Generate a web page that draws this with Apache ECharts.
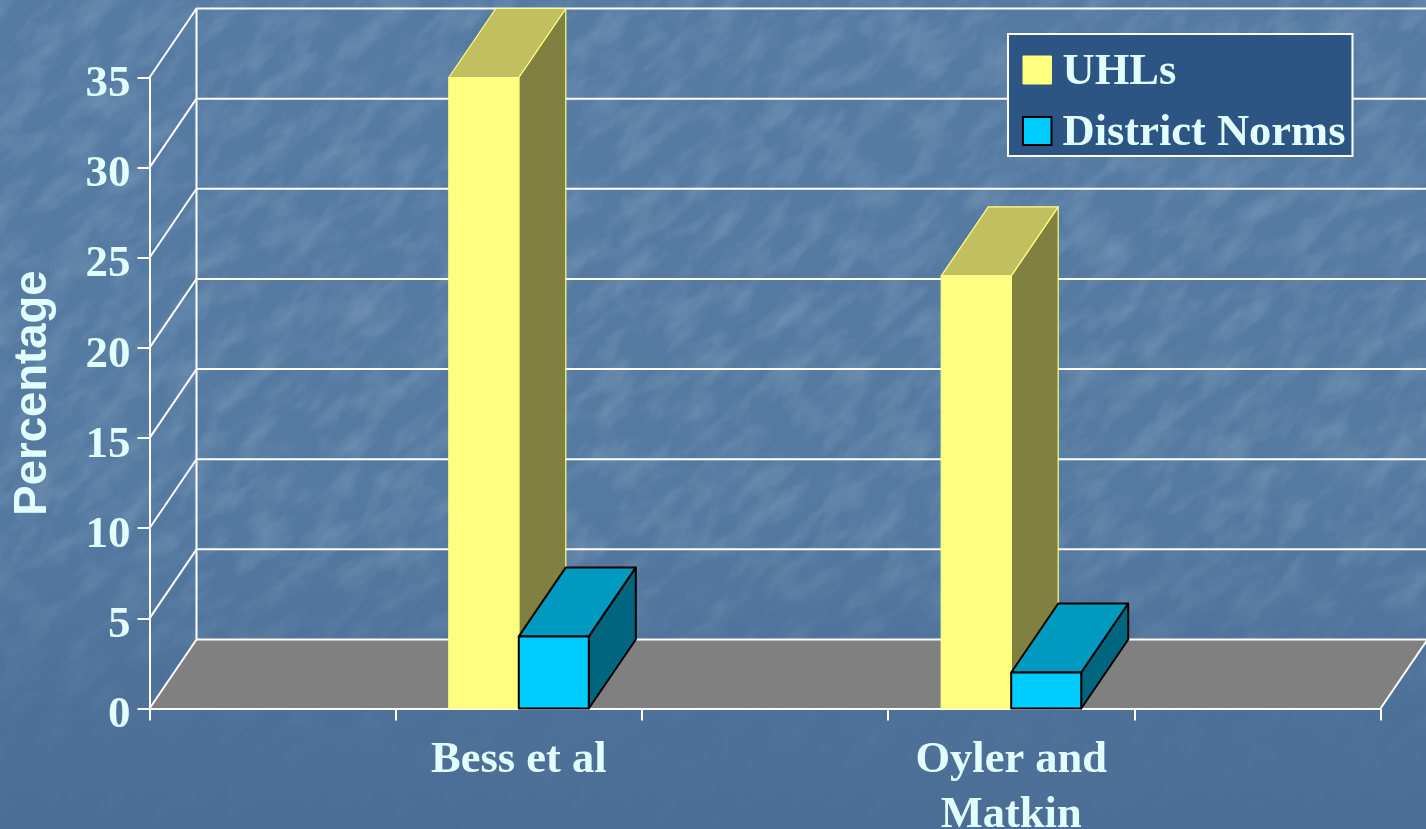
<!DOCTYPE html>
<html>
<head>
<meta charset="utf-8">
<style>
html,body{margin:0;padding:0;width:1426px;height:829px;overflow:hidden;background:#557aa3;}
#bg{position:absolute;left:0;top:0;width:1426px;height:829px;}
#chart{position:absolute;left:0;top:0;width:1426px;height:829px;}
</style>
<script src="https://cdn.jsdelivr.net/npm/echarts@6/dist/echarts.min.js"></script>
</head>
<body>
<svg id="bg" xmlns="http://www.w3.org/2000/svg" width="1426" height="829" viewBox="0 0 1426 829">
  <defs>
    <linearGradient id="base" x1="0" y1="0" x2="0" y2="1">
      <stop offset="0" stop-color="#567ba3"/>
      <stop offset="0.6" stop-color="#557aa1"/>
      <stop offset="0.82" stop-color="#4e7199"/>
      <stop offset="1" stop-color="#4b6d96"/>
    </linearGradient>
    <linearGradient id="fade" x1="0" y1="0" x2="0" y2="1">
      <stop offset="0" stop-color="#fff"/>
      <stop offset="0.66" stop-color="#fff"/>
      <stop offset="0.86" stop-color="#333"/>
      <stop offset="1" stop-color="#111"/>
    </linearGradient>
    <mask id="m"><rect width="1426" height="829" fill="url(#fade)"/></mask>
    <filter id="streaks" x="0" y="0" width="100%" height="100%" color-interpolation-filters="sRGB">
      <feTurbulence type="fractalNoise" baseFrequency="0.022 0.045" numOctaves="4" seed="11"/>
      <feColorMatrix type="matrix" values="0 0 0 0 0.70  0 0 0 0 0.78  0 0 0 0 0.88  0.5 0 0 0 -0.2"/>
    </filter>
  </defs>
  <rect width="1426" height="829" fill="url(#base)"/>
  <g mask="url(#m)">
    <g transform="rotate(-42 713 414)">
      <rect x="-400" y="-500" width="2300" height="1900" filter="url(#streaks)"/>
    </g>
  </g>
</svg>
<div id="chart"></div>
<script>
var categories = ['', 'Bess et al', '', 'Oyler and\nMatkin', ''];
var uhls = [null, 35, null, 24, null];
var districtNorms = [null, 4, null, 2, null];
var yTicks = [0, 5, 10, 15, 20, 25, 30, 35];
var seriesNames = ['UHLs', 'District Norms'];

var labelColor = '#e2ffff';
var serif = '"Liberation Serif", "Times New Roman", serif';
var depthX = 47, depthY = -69, barW = 70;

function wallItem(params, api) {
  var v = api.value(0);
  var cs = params.coordSys;
  var y = api.coord([0, v])[1];
  var x0 = cs.x, x1 = cs.x + cs.width;
  var line = {stroke: '#fff', lineWidth: 2};
  var children = [];
  if (v === 0) {
    children.push({type: 'polygon', shape: {points: [[x0, y], [x0 + depthX, y + depthY], [x1 + depthX, y + depthY], [x1, y]]},
      style: {fill: '#808080', stroke: null}});
    children.push({type: 'line', shape: {x1: x1, y1: y, x2: x1 + depthX, y2: y + depthY}, style: line});
  }
  if (v === yTicks[yTicks.length - 1]) {
    var yBase = api.coord([0, 0])[1];
    children.push({type: 'line', shape: {x1: x0 + depthX, y1: y + depthY, x2: x0 + depthX, y2: yBase + depthY}, style: line});
  }
  children.push({type: 'line', shape: {x1: x0, y1: y, x2: x0 + depthX, y2: y + depthY}, style: line});
  children.push({type: 'line', shape: {x1: x0 + depthX, y1: y + depthY, x2: x1 + depthX, y2: y + depthY}, style: line});
  return {type: 'group', children: children};
}

function boxRender(offset, front, top, side, stroke, lw) {
  return function (params, api) {
    var val = api.value(1);
    if (val == null || isNaN(val)) return null;
    var c = api.coord([api.value(0), val]);
    var b = api.coord([api.value(0), 0]);
    var l = c[0] + offset, r = l + barW, t = c[1], g = b[1];
    var st = {stroke: stroke, lineWidth: lw, lineJoin: 'round'};
    function poly(pts, fill) {
      return {type: 'polygon', shape: {points: pts}, style: Object.assign({fill: fill}, st)};
    }
    return {type: 'group', children: [
      poly([[r, g], [r + depthX, g + depthY], [r + depthX, t + depthY], [r, t]], side),
      poly([[l, t], [l + depthX, t + depthY], [r + depthX, t + depthY], [r, t]], top),
      poly([[l, g], [l, t], [r, t], [r, g]], front)
    ]};
  };
}

function toData(arr) { return arr.map(function (v, i) { return [i, v]; }); }

var chart = echarts.init(document.getElementById('chart'), null, {renderer: 'canvas'});
chart.setOption({
  animation: false,
  backgroundColor: 'transparent',
  grid: {left: 149.5, right: 45.5, top: 77.5, bottom: 120.5, containLabel: false, outerBoundsMode: 'none'},
  legend: {
    left: 1008, top: 34, orient: 'vertical',
    padding: [16, 7, 0, 14],
    itemWidth: 28.5, itemHeight: 28, itemGap: 16,
    backgroundColor: '#2c5583', borderColor: '#fff', borderWidth: 2,
    selectedMode: false,
    formatter: function (name) { return '{t|' + name + '}'; },
    textStyle: {
      color: labelColor, fontFamily: serif, fontWeight: 'bold', fontSize: 44.5,
      rich: {t: {color: labelColor, fontFamily: serif, fontWeight: 'bold', fontSize: 44.5, padding: [5, 0, 0, 6]}}
    },
    data: [
      {name: seriesNames[0], icon: 'rect', itemStyle: {color: '#ffff80', borderColor: '#ffff80', borderWidth: 1}},
      {name: seriesNames[1], icon: 'rect', itemStyle: {color: '#00ccff', borderColor: '#000', borderWidth: 2}}
    ]
  },
  xAxis: {
    type: 'category', data: categories, boundaryGap: true,
    axisLine: {show: true, onZero: false, lineStyle: {color: '#fff', width: 2}},
    axisTick: {show: true, length: 12, alignWithLabel: false, interval: 0, lineStyle: {color: '#fff', width: 2}},
    axisLabel: {interval: 0, color: labelColor, fontFamily: serif, fontWeight: 'bold', fontSize: 44.5, lineHeight: 55, margin: 24, hideOverlap: false},
    splitLine: {show: false}
  },
  yAxis: {
    type: 'value', min: 0, max: 35, interval: 5,
    name: 'Percentage', nameLocation: 'middle', nameRotate: 90, nameGap: 93,
    nameTextStyle: {color: labelColor, fontFamily: '"Liberation Sans", Arial, sans-serif', fontWeight: 'bold', fontSize: 45.5},
    axisLine: {show: true, lineStyle: {color: '#fff', width: 2}},
    axisTick: {show: true, length: 12, lineStyle: {color: '#fff', width: 2}},
    axisLabel: {color: labelColor, fontFamily: serif, fontWeight: 'bold', fontSize: 45, margin: 19, verticalAlign: 'top', lineHeight: 14, hideOverlap: false},
    splitLine: {show: false}
  },
  series: [
    {type: 'custom', name: 'walls', z: -1, silent: true, clip: false, renderItem: wallItem,
     data: yTicks.map(function (t) { return [t]; }), encode: {y: 0}},
    {type: 'custom', name: seriesNames[0], z: 3, clip: false,
     itemStyle: {color: '#ffff80'},
     renderItem: boxRender(-barW, '#ffff80', '#c1bf60', '#808040', '#ffff80', 1.2),
     data: toData(uhls), encode: {x: 0, y: 1}},
    {type: 'custom', name: seriesNames[1], z: 4, clip: false,
     itemStyle: {color: '#00ccff'},
     renderItem: boxRender(0, '#00ccff', '#0099bf', '#006680', '#000', 2),
     data: toData(districtNorms), encode: {x: 0, y: 1}}
  ]
});
</script>
</body>
</html>
